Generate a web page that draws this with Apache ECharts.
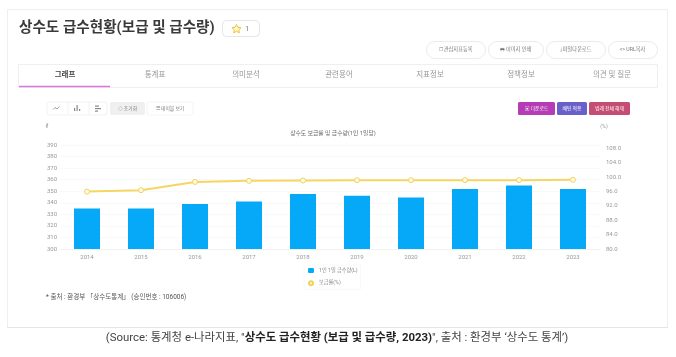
<!DOCTYPE html>
<html>
<head>
<meta charset="utf-8">
<script src="https://cdn.jsdelivr.net/npm/echarts@6/dist/echarts.min.js"></script>
<style>
  html, body { margin: 0; padding: 0; background: #fff; }
  #vis { width: 676px; height: 357px; filter: blur(0.35px); }
</style>
</head>
<body>
<div id="vis"></div>
<script>
const years = ["2014", "2015", "2016", "2017", "2018", "2019", "2020", "2021", "2022", "2023"];
const supplyPerPerson = [335, 335, 339, 341, 347.5, 346, 344.5, 352, 355, 352];
const coverageRate = [96.0, 96.4, 98.7, 99.0, 99.1, 99.2, 99.2, 99.2, 99.2, 99.3];

const tabs = ["그래프", "통계표", "의미분석", "관련용어", "지표정보", "정책정보", "의견 및 질문"];
const topButtons = ["☐ 관심지표등록", "🖶 이미지 인쇄", "⤓ 파일다운로드", "<> URL복사"];
const chartButtons = ["▣ 다운로드", "배틴 적용", "범례 전체 해제"];
const toolButtons = ["초기화", "테이블 보기"];

const FONT = 'Roboto, "Noto Sans CJK KR", "Noto Sans", sans-serif';

const chart = echarts.init(document.getElementById("vis"), null, { renderer: "canvas" });

function box(x, y, width, height, r, fill, stroke) {
  return {
    type: "rect",
    silent: true,
    shape: { x, y, width, height, r },
    style: { fill: fill || "#fff", stroke: stroke || null, lineWidth: 1 }
  };
}

function label(x, y, text, size, color, align, weight) {
  return {
    type: "text",
    silent: true,
    x,
    y,
    style: {
      text,
      font: `${weight || "normal"} ${size}px ${FONT}`,
      fill: color,
      align: align || "center",
      verticalAlign: "middle"
    }
  };
}

function line(x1, y1, x2, y2, color, width) {
  return {
    type: "line",
    silent: true,
    shape: { x1, y1, x2, y2 },
    style: { stroke: color, lineWidth: width || 1 }
  };
}

// everything around the plot: card, title, tabs, buttons
function pageChrome() {
  const g = [];
  g.push(box(7.5, 9.5, 660, 318, 0, "#fff", "#efefef"));
  g.push(label(19, 28, "상수도 급수현황(보급 및 급수량)", 14.6, "#3a3a3a", "left", "bold"));

  g.push(box(222.5, 20.5, 37, 16, 4, "#fff", "#e6e6e6"));
  g.push({
    type: "polygon",
    silent: true,
    shape: { points: [[236.5, 24.5], [238, 27.3], [241, 27.7], [238.8, 29.8], [239.4, 32.8], [236.5, 31.4], [233.6, 32.8], [234.2, 29.8], [232, 27.7], [235, 27.3]] },
    style: { fill: "#fff6c8", stroke: "#e8c02c", lineWidth: 0.9 }
  });
  g.push(label(245, 29, "1", 8, "#888", "left"));

  const btnX = [[426, 59], [488, 55], [546, 59], [608, 49]];
  topButtons.forEach((t, i) => {
    g.push(box(btnX[i][0] + 0.5, 41.5, btnX[i][1], 17, 8.5, "#fff", "#ebebeb"));
    g.push(label(btnX[i][0] + btnX[i][1] / 2, 49.5, t, 5.2, "#777"));
  });

  g.push(box(18.5, 64.5, 639, 23, 0, "#fff", "#efefef"));
  const tabX = [65, 155, 246, 339, 430, 521, 612];
  tabs.forEach((t, i) => {
    g.push(label(tabX[i], 75, t, 7.5, i === 0 ? "#444" : "#999", "center", i === 0 ? "bold" : "normal"));
  });
  g.push(line(19, 86.5, 110, 86.5, "#d975dc", 1.5));

  g.push(box(47, 102, 60, 13, 2, "#fff", "#f2f2f2"));
  g.push(line(68, 102, 68, 115, "#f2f2f2"));
  g.push(line(89, 102, 89, 115, "#f2f2f2"));
  g.push({
    type: "polyline",
    silent: true,
    shape: { points: [[53, 109.5], [55, 107.5], [57, 109], [59.5, 106.5]] },
    style: { stroke: "#888", lineWidth: 0.8, fill: null }
  });
  [[74, 3], [76.5, 6], [79, 2]].forEach(b => {
    g.push(box(b[0], 111 - b[1], 1.2, b[1], 0, "#888"));
  });
  [[4, 105.5], [6, 108], [3, 110.5]].forEach(b => {
    g.push(box(95, b[1], b[0], 1.2, 0, "#888"));
  });
  g.push(box(110, 102, 35, 13, 2, "#f0f0f0"));
  g.push(label(127.5, 108.5, "◇ " + toolButtons[0], 4.8, "#777"));
  g.push(box(147, 102, 46, 13, 2, "#fff", "#f4f4f4"));
  g.push(label(170, 108.5, "☰ " + toolButtons[1], 4.8, "#777"));

  const redBtn = [[518, 37, "#b53cb4"], [557, 30, "#6a60c9"], [589, 41, "#c54d74"]];
  redBtn.forEach((b, i) => {
    g.push(box(b[0], 102, b[1], 13, 1.5, b[2]));
    g.push(label(b[0] + b[1] / 2, 108.5, chartButtons[i], 4.8, "#fff"));
  });

  g.push(label(333, 134, "상수도 보급률 및 급수량(1인 1일당)", 5.8, "#666"));
  g.push(label(47, 126, "ℓ", 6, "#888"));
  g.push(label(604, 127, "(%)", 5.2, "#999"));

  g.push(label(46, 297, "* 출처 : 환경부 「상수도통계」 (승인번호 : 106006)", 6.5, "#555", "left"));
  g.push(line(7, 327.5, 668, 327.5, "#e4e4e4"));

  g.push({
    type: "text",
    silent: true,
    x: 337,
    y: 338,
    style: {
      text: '{n|(Source: 통계청 e-나라지표, "}{b|상수도 급수현황 (보급 및 급수량, 2023)}{n|", 출처 : 환경부 ‘상수도 통계’)}',
      align: "center",
      verticalAlign: "middle",
      rich: {
        n: { font: `normal 11.4px ${FONT}`, fill: "#444" },
        b: { font: `bold 11.4px ${FONT}`, fill: "#222" }
      }
    }
  });
  return g;
}

chart.setOption({
  animation: false,
  textStyle: { fontFamily: FONT },
  grid: { left: 60, right: 76, top: 145, bottom: 108 },
  legend: {
    orient: "vertical",
    left: 304,
    top: 265,
    itemWidth: 6,
    itemHeight: 5,
    itemGap: 7,
    padding: 3,
    borderColor: "#f8f8f8",
    borderWidth: 1,
    textStyle: { fontSize: 5.2, color: "#888" },
    data: ["1인 1일 급수량(L)", "보급률(%)"]
  },
  xAxis: {
    type: "category",
    data: years,
    axisLine: { lineStyle: { color: "#f0f0f0" } },
    axisTick: { show: false },
    axisLabel: { fontSize: 6, color: "#999", margin: 5 }
  },
  yAxis: [
    {
      type: "value",
      min: 300,
      max: 390,
      interval: 10,
      axisLine: { show: false },
      axisTick: { show: false },
      axisLabel: { fontSize: 6, color: "#999", margin: 3 },
      splitLine: { lineStyle: { color: "#f9f9f9" } }
    },
    {
      type: "value",
      min: 80,
      max: 109,
      interval: 4,
      axisLine: { show: false },
      axisTick: { show: false },
      splitLine: { show: false },
      axisLabel: {
        fontSize: 6,
        color: "#999",
        margin: 6,
        showMaxLabel: false,
        formatter: v => v.toFixed(1)
      }
    }
  ],
  series: [
    {
      name: "1인 1일 급수량(L)",
      type: "bar",
      data: supplyPerPerson,
      barWidth: 26,
      itemStyle: { color: "#05a9f7" }
    },
    {
      name: "보급률(%)",
      type: "line",
      yAxisIndex: 1,
      data: coverageRate,
      symbol: "circle",
      symbolSize: 5,
      lineStyle: { color: "#f5d663", width: 2 },
      itemStyle: { color: "#fffbe6", borderColor: "#f2d35a", borderWidth: 1 }
    }
  ],
  graphic: pageChrome()
});
</script>
</body>
</html>
